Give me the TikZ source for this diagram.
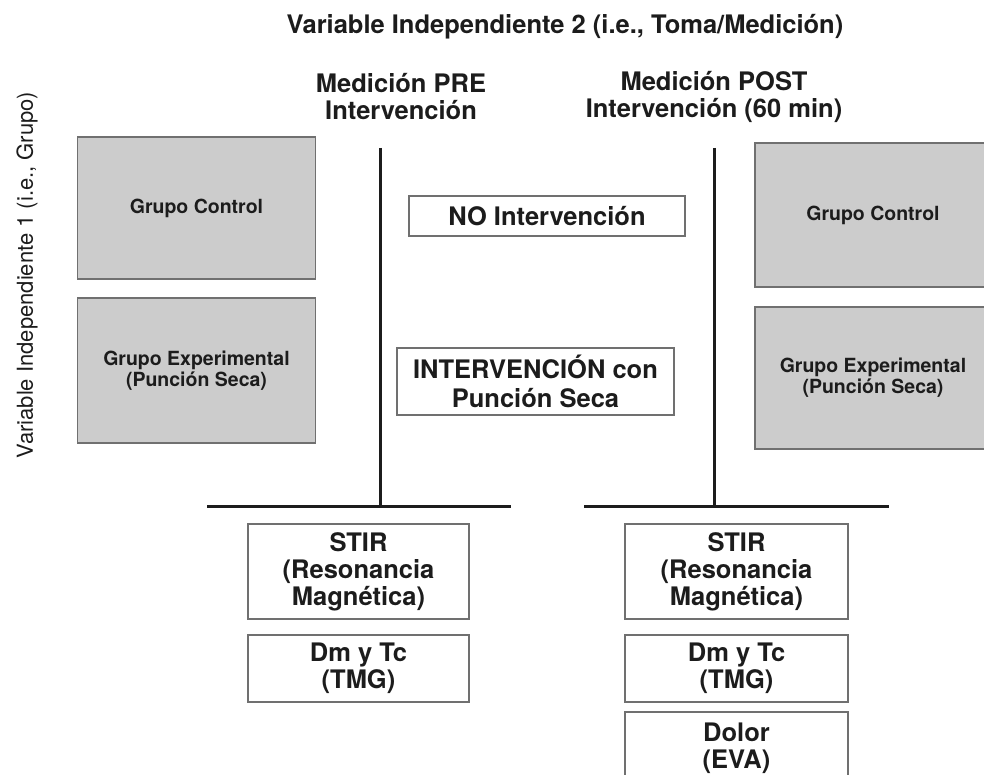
\documentclass[tikz,border=0pt]{standalone}
\usepackage{fontspec}
\setmainfont{TeX Gyre Heros}
\definecolor{boxgray}{HTML}{CCCCCC}
\definecolor{edgegray}{HTML}{707070}
\definecolor{ink}{HTML}{1C1C1C}
\newcommand{\hdfont}{\fontsize{25.5}{27}\selectfont\bfseries}
\newcommand{\grpfont}{\fontsize{19.5}{21}\selectfont\bfseries}
\newcommand{\vfont}{\fontsize{22}{24}\selectfont}
\begin{document}
\begin{tikzpicture}[x=1pt,y=-1pt,
  graybox/.style={draw=edgegray, line width=1.6pt, fill=boxgray, inner sep=0pt, align=center, font=\grpfont, text=ink},
  whitebox/.style={draw=edgegray, line width=1.4pt, fill=white, inner sep=0pt, align=center, font=\hdfont, text=ink},
  label/.style={inner sep=0pt, align=center, text=ink},
  axisline/.style={draw=ink, line width=3pt}]
\useasboundingbox (0,0) rectangle (984,775);
\fill[white] (0,0) rectangle (984,775);

% titles
\node[label, font=\hdfont] (title) at (565,27) {Variable Independiente 2 (i.e., Toma/Medición)};
\node[label, font=\vfont, rotate=90] (vtitle) at (27,275) {Variable Independiente 1 (i.e., Grupo)};
\node[label, font=\hdfont] (pre) at (401,96.5) {Medición PRE\\Intervención};
\node[label, font=\hdfont] (post) at (714,96.5) {Medición POST\\Intervención (60 min)};

% group boxes
\node[graybox, minimum width=238pt, minimum height=142pt] (gcL) at (196.5,208) {Grupo Control};
\node[graybox, minimum width=238pt, minimum height=145pt] (geL) at (196.5,370.5) {Grupo Experimental\\(Punción Seca)};
\node[graybox, minimum width=236pt, minimum height=144pt] (gcR) at (873,215) {Grupo Control};
\node[graybox, minimum width=236pt, minimum height=142pt] (geR) at (873,378) {Grupo Experimental\\(Punción Seca)};

% intervention boxes
\node[whitebox, minimum width=276pt, minimum height=40pt] (noI) at (547,216) {NO Intervención};
\node[whitebox, minimum width=277pt, minimum height=67pt, font=\fontsize{25.5}{28.5}\selectfont\bfseries] (inI) at (535.5,381.5) {INTERVENCIÓN con\\Punción Seca};

% axes
\coordinate (preT) at (380,148);
\coordinate (preB) at (380,506);
\coordinate (preL) at (207,506);
\coordinate (preR) at (511,506);
\coordinate (postT) at (714,148);
\coordinate (postB) at (714,506);
\coordinate (postL) at (584,506);
\coordinate (postR) at (889,506);
\draw[axisline] (preT) -- (preB);
\draw[axisline] (preL) -- (preR);
\draw[axisline] (postT) -- (postB);
\draw[axisline] (postL) -- (postR);

% measurement boxes
\node[whitebox, minimum width=221pt, minimum height=95pt] (stirL) at (358.5,571.5) {STIR\\(Resonancia\\Magnética)};
\node[whitebox, minimum width=221pt, minimum height=67pt] (dmL) at (358.5,668.5) {Dm y Tc\\(TMG)};
\node[whitebox, minimum width=223pt, minimum height=95pt] (stirR) at (736.5,571.5) {STIR\\(Resonancia\\Magnética)};
\node[whitebox, minimum width=223pt, minimum height=67pt] (dmR) at (736.5,668.5) {Dm y Tc\\(TMG)};
\node[whitebox, minimum width=223pt, minimum height=73pt] (dolR) at (736.5,748.5) {Dolor\\(EVA)};
\end{tikzpicture}
\end{document}
